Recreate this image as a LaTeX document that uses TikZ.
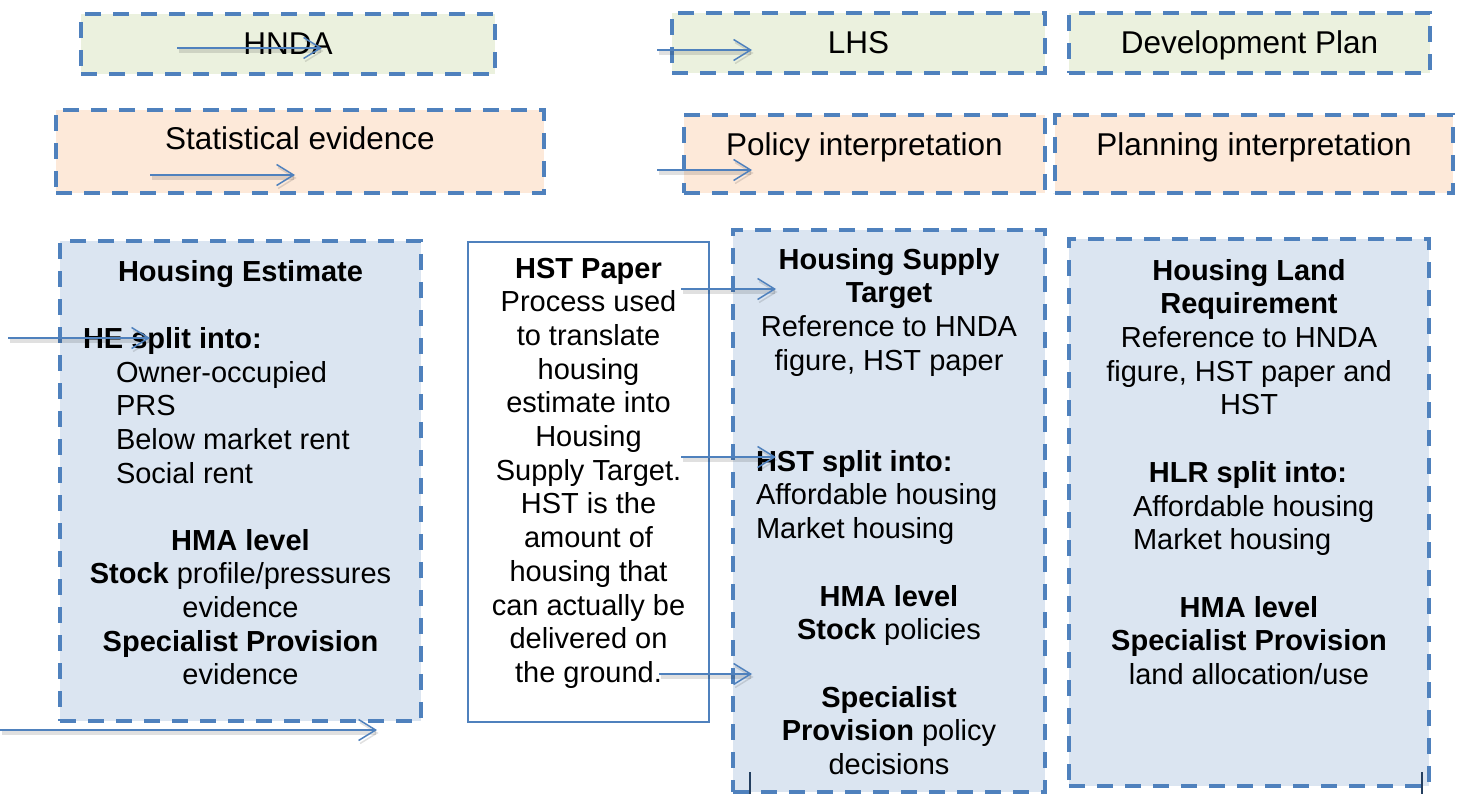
\documentclass[tikz,border=0pt]{standalone}
\usepackage{fontspec}
\setmainfont{Liberation Sans}
\usetikzlibrary{arrows.meta}
\definecolor{bord}{HTML}{4F81BD}
\definecolor{greenfill}{HTML}{EBF1DE}
\definecolor{peachfill}{HTML}{FDE9D9}
\definecolor{bluefill}{HTML}{DBE5F1}
\definecolor{stubcol}{HTML}{243F60}
\begin{document}
\begin{tikzpicture}[x=1pt,y=-1pt,
  dbox/.style={draw=bord, line width=3.5pt, dash pattern=on 16pt off 12pt,
    inner sep=0, outer sep=0, anchor=north west},
  sbox/.style={draw=bord, line width=1.5pt, fill=white, inner sep=0, outer sep=0, anchor=north west},
  toptxt/.style={inner sep=0, outer sep=0, anchor=base, font=\fontsize{31.5}{36}\selectfont},
  txt/.style={inner sep=0, outer sep=0, anchor=base, align=center, font=\fontsize{29}{33.7}\selectfont},
  ltxt/.style={txt, anchor=base west, align=left},
  arr/.style={draw=bord, line width=1.5pt,
    -{Straight Barb[length=17pt,width=21pt,line width=1.5pt]},
    preaction={draw=black, opacity=0.12, line width=3.5pt,
      transform canvas={shift={(1.5pt,-3pt)}}}},
  stub/.style={draw=stubcol, line width=1.5pt}
]
\fill[white] (0,0) rectangle (1463,794);
\useasboundingbox (0,0) rectangle (1463,794);

% top row boxes
\node[dbox, fill=greenfill, minimum width=414pt, minimum height=60pt] (hnda) at (81,14) {};
\node[dbox, fill=greenfill, minimum width=373pt, minimum height=60pt] (lhs) at (672,13) {};
\node[dbox, fill=greenfill, minimum width=361pt, minimum height=60pt] (devplan) at (1069,13) {};
% second row boxes
\node[dbox, fill=peachfill, minimum width=488pt, minimum height=83pt] (stat) at (56,110) {};
\node[dbox, fill=peachfill, minimum width=361pt, minimum height=78pt] (policy) at (684,115) {};
\node[dbox, fill=peachfill, minimum width=398pt, minimum height=78pt] (planning) at (1055,115) {};
% columns
\node[dbox, fill=bluefill, minimum width=361pt, minimum height=480pt] (hecol) at (60,241) {};
\node[sbox, minimum width=241pt, minimum height=480pt] (hstpaper) at (468,242) {};
\node[dbox, fill=bluefill, minimum width=312pt, minimum height=562pt] (hstcol) at (733,230) {};
\node[dbox, fill=bluefill, minimum width=360pt, minimum height=547pt] (hlrcol) at (1069,239) {};

% top labels
\node[toptxt] (thnda) at (288,55) {HNDA};
\node[toptxt] (tlhs) at (858.5,54) {LHS};
\node[toptxt] (tdev) at (1249.5,54) {Development Plan};
\node[toptxt] (tstat) at (300,150) {Statistical evidence};
\node[toptxt] (tpolicy) at (864.5,156) {Policy interpretation};
\node[toptxt] (tplan) at (1254,156) {Planning interpretation};

% (multi-line nodes are anchored at the baseline of their last line)
% Housing Estimate column
\node[txt] (he1) at (240.5,281) {\textbf{Housing Estimate}};
\node[ltxt] (he2) at (83,348) {\textbf{HE split into:}};
\node[ltxt] (he3) at (116,483.1) {Owner-occupied\\PRS\\Below market rent\\Social rent};
\node[txt] (he4) at (240.5,684.8) {\textbf{HMA level}\\\textbf{Stock} profile/pressures\\evidence\\\textbf{Specialist Provision}\\evidence};

% HST paper
\node[txt] (hp) at (588.5,682.4) {\textbf{HST Paper}\\Process used\\to translate\\housing\\estimate into\\Housing\\Supply Target.\\HST is the\\amount of\\housing that\\can actually be\\delivered on\\the ground.};

% Housing Supply Target column
\node[txt] (hs1) at (889,370.1) {\textbf{Housing Supply}\\\textbf{Target}\\Reference to HNDA\\figure, HST paper};
\node[ltxt] (hs2) at (756,538.4) {\textbf{HST split into:}\\Affordable housing\\Market housing};
\node[txt] (hs3) at (889,639.7) {\textbf{HMA level}\\\textbf{Stock} policies};
\node[txt] (hs4) at (889,774.4) {\textbf{Specialist}\\\textbf{Provision} policy\\decisions};

% Housing Land Requirement column
\node[txt] (hl1) at (1249,414.8) {\textbf{Housing Land}\\\textbf{Requirement}\\Reference to HNDA\\figure, HST paper and\\HST};
\node[txt] (hl2) at (1248,482) {\textbf{HLR split into:}};
\node[ltxt] (hl3) at (1133,549.7) {Affordable housing\\Market housing};
\node[txt] (hl4) at (1249,684.4) {\textbf{HMA level}\\\textbf{Specialist Provision}\\land allocation/use};

% arrow end points
\coordinate (a1s) at (177,48);  \coordinate (a1e) at (322,48);
\coordinate (a2s) at (150,175); \coordinate (a2e) at (295,175);
\coordinate (a3s) at (657,50);  \coordinate (a3e) at (752,50);
\coordinate (a4s) at (657,170); \coordinate (a4e) at (752,170);
\coordinate (a5s) at (8,338);   \coordinate (a5e) at (150,338);
\coordinate (a6s) at (0,730);   \coordinate (a6e) at (377,730);
\coordinate (a7s) at (681,289); \coordinate (a7e) at (776,289);
\coordinate (a8s) at (681,457); \coordinate (a8e) at (776,457);
\coordinate (a9s) at (659,674); \coordinate (a9e) at (752,674);
\coordinate (s1a) at (750,772); \coordinate (s1b) at (750,794);
\coordinate (s2a) at (1422,772); \coordinate (s2b) at (1422,794);

\draw[arr] (a1s) -- (a1e);
\draw[arr] (a2s) -- (a2e);
\draw[arr] (a3s) -- (a3e);
\draw[arr] (a4s) -- (a4e);
\draw[arr] (a5s) -- (a5e);
\draw[arr] (a6s) -- (a6e);
\draw[arr] (a7s) -- (a7e);
\draw[arr] (a8s) -- (a8e);
\draw[arr] (a9s) -- (a9e);
\draw[stub] (s1a) -- (s1b);
\draw[stub] (s2a) -- (s2b);
\end{tikzpicture}
\end{document}
